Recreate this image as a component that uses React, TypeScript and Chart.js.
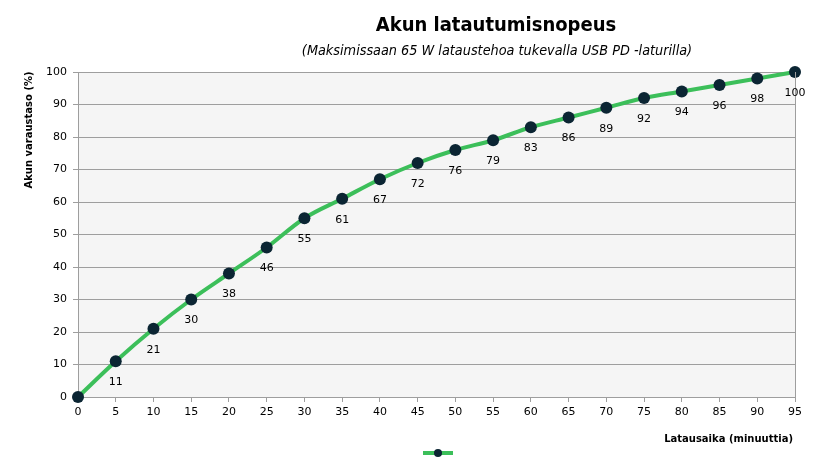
import React, { useEffect, useRef } from "react";
import { Chart, registerables } from "chart.js";

Chart.register(...registerables);

const minutes = [0, 5, 10, 15, 20, 25, 30, 35, 40, 45, 50, 55, 60, 65, 70, 75, 80, 85, 90, 95];
const charge = [0, 11, 21, 30, 38, 46, 55, 61, 67, 72, 76, 79, 83, 86, 89, 92, 94, 96, 98, 100];
const titleText = "Akun latautumisnopeus";
const subtitleText = "(Maksimissaan 65 W lataustehoa tukevalla USB PD -laturilla)";
const yTitle = "Akun varaustaso (%)";
const xTitle = "Latausaika (minuuttia)";

const GREEN = "#3cbf5a";
const DOT = "#0b2533";
const GRID = "#9e9e9e";
const TICKFONT = "DejaVu Sans, Verdana, sans-serif";
const NARROW = "'Liberation Sans Narrow', 'DejaVu Sans Condensed', sans-serif";
const AXTITLEFONT = "'DejaVu Sans', Verdana, sans-serif";

const decorPlugin = {
  id: "decor",
  beforeDraw(chart: any) {
    const { ctx, chartArea: a } = chart;
    ctx.save();
    ctx.fillStyle = "#f5f5f5";
    ctx.fillRect(a.left, a.top, a.right - a.left, a.bottom - a.top);
    ctx.restore();
  },
  afterDatasetsDraw(chart: any) {
    const { ctx, chartArea: a } = chart;
    ctx.save();
    ctx.strokeStyle = GRID;
    ctx.lineWidth = 1;
    ctx.beginPath();
    ctx.moveTo(Math.round(a.right) + 0.5, a.top);
    ctx.lineTo(Math.round(a.right) + 0.5, a.bottom);
    ctx.stroke();
    ctx.restore();
  },
  afterDraw(chart: any) {
    const { ctx } = chart;
    ctx.save();
    const meta = chart.getDatasetMeta(0);
    ctx.fillStyle = "#000";
    ctx.font = `11px ${TICKFONT}`;
    ctx.textAlign = "center";
    ctx.textBaseline = "middle";
    meta.data.forEach((pt: any, i: number) => {
      const v = charge[i];
      if (v === 0) return;
      ctx.fillText(String(v), pt.x, pt.y + 21);
    });
    ctx.font = `bold 20px ${NARROW}`;
    ctx.fillText(titleText, 496, 26);
    ctx.font = `italic 14.3px ${NARROW}`;
    ctx.fillText(subtitleText, 497, 51);
    ctx.font = `bold 10px ${AXTITLEFONT}`;
    ctx.textAlign = "right";
    ctx.fillText(xTitle, 793, 439);
    ctx.save();
    ctx.translate(29, 130);
    ctx.rotate(-Math.PI / 2);
    ctx.textAlign = "center";
    ctx.fillText(yTitle, 0, 0);
    ctx.restore();
    const lx = 438, ly = 453;
    ctx.strokeStyle = GREEN;
    ctx.lineWidth = 4;
    ctx.beginPath();
    ctx.moveTo(lx - 15, ly);
    ctx.lineTo(lx + 15, ly);
    ctx.stroke();
    ctx.fillStyle = DOT;
    ctx.beginPath();
    ctx.arc(lx, ly, 4, 0, Math.PI * 2);
    ctx.fill();
    ctx.restore();
  },
};

export default function App() {
  const ref = useRef<HTMLCanvasElement>(null);
  useEffect(() => {
    document.body.style.margin = "0";
    const chart = new Chart(ref.current!, {
      type: "line",
      data: {
        labels: minutes,
        datasets: [
          {
            data: minutes.map((m, i) => ({ x: m, y: charge[i] })),
            borderColor: GREEN,
            borderWidth: 4,
            backgroundColor: DOT,
            pointBackgroundColor: DOT,
            pointBorderColor: DOT,
            pointRadius: 6,
            pointBorderWidth: 0,
            cubicInterpolationMode: "monotone",
            clip: false as any,
          },
        ],
      },
      options: {
        animation: false,
        responsive: false,
        layout: { padding: { top: 72, right: 36, left: 0, bottom: 0 } },
        plugins: { legend: { display: false }, title: { display: false }, tooltip: { enabled: false } },
        scales: {
          x: {
            type: "linear",
            min: 0,
            max: 95,
            ticks: { stepSize: 5, color: "#000", font: { family: TICKFONT, size: 11 }, padding: 4, maxRotation: 0 },
            grid: { drawOnChartArea: false, drawTicks: true, tickLength: 5, color: GRID },
            border: { color: GRID },
            afterFit: (s: any) => { s.height = 70; },
          },
          y: {
            min: 0,
            max: 100,
            ticks: { stepSize: 10, color: "#000", font: { family: TICKFONT, size: 11 }, padding: 6 },
            grid: { color: GRID, tickLength: 5 },
            border: { color: GRID },
            afterFit: (s: any) => { s.width = 78; },
          },
        },
      },
      plugins: [decorPlugin],
    });
    return () => chart.destroy();
  }, []);
  return (
    <div style={{ width: 831, height: 467 }}>
      <canvas ref={ref} width={831} height={467} style={{ display: "block" }} />
    </div>
  );
}
